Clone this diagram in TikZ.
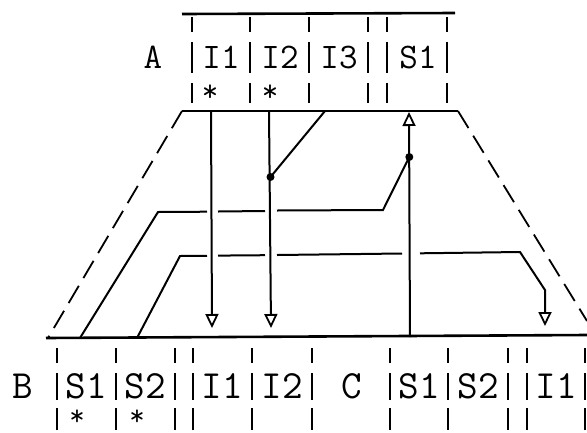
\documentclass[tikz,border=0pt]{standalone}
\usetikzlibrary{arrows.meta}
\begin{document}
\begin{tikzpicture}[x=1pt,y=-1pt,
 rule/.style={line width=2.6pt},
 bar/.style={line width=1.7pt},
 trap/.style={line width=1.8pt, dash pattern=on 20pt off 9pt},
 wire/.style={line width=2pt},
 arr/.style={line width=2pt, -{Triangle[open,length=14pt,width=13pt,line width=1.8pt]}},
 dot/.style={circle,fill,inner sep=0pt,minimum size=8pt},
 ltop/.style={font=\ttfamily\fontsize{36}{36}\selectfont, anchor=base, inner sep=0pt},
 lbot/.style={font=\ttfamily\fontsize{40}{40}\selectfont, anchor=base, inner sep=0pt},
 stop/.style={font=\ttfamily\fontsize{32}{32}\selectfont, inner sep=0pt},
 sbot/.style={font=\ttfamily\fontsize{30}{30}\selectfont, inner sep=0pt},
]
\useasboundingbox (0,0) rectangle (587,432);

% ---- register A ----
\foreach \x in {192,250,309,368,387,447}
  \draw[bar] (\x,17) -- (\x,32) (\x,42) -- (\x,73) (\x,83) -- (\x,103);
\coordinate (At1) at (182,14);  \coordinate (At2) at (455,13);
\coordinate (Ab1) at (182,111); \coordinate (Ab2) at (458,111);
\draw[rule] (At1) -- (At2);
\draw[rule] (Ab1) -- (Ab2);
\node[ltop] (tA)  at (153,68) {A};
\node[ltop] (tI1) at (221,68) {I1};
\node[ltop] (tI2) at (280,68) {I2};
\node[ltop] (tI3) at (339,68) {I3};
\node[ltop] (tS1) at (418,68) {S1};
\node[stop] (st1) at (210,93) {*};
\node[stop] (st2) at (270,93) {*};

% ---- register B / C ----
\foreach \x in {57,116,175,193,252,312,390,448,508,527,585}
  \draw[bar] (\x,348) -- (\x,363) (\x,373) -- (\x,400) (\x,408) -- (\x,430);
\coordinate (Bb1) at (46,338); \coordinate (Bb2) at (587,335);
\draw[rule] (Bb1) -- (Bb2);
\node[lbot] (tB)   at (23,398)  {B};
\node[lbot] (bS1)  at (86,398)  {S1};
\node[lbot] (bS2)  at (145,398) {S2};
\node[lbot] (bI1)  at (222,398) {I1};
\node[lbot] (bI2)  at (282,398) {I2};
\node[lbot] (tC)   at (352,398) {C};
\node[lbot] (cS1)  at (419,398) {S1};
\node[lbot] (cS2)  at (478,398) {S2};
\node[lbot] (cI1)  at (556,398) {I1};
\node[sbot] (st3) at (77,418) {*};
\node[sbot] (st4) at (137,418) {*};

% ---- trapezoid ----
\coordinate (Tl) at (48,338);
\coordinate (Tr) at (587,321);
\draw[trap] (Ab1) -- (Tl);
\draw[trap] (Ab2) -- (Tr);

% ---- arrows ----
\coordinate (a1s) at (211,111); \coordinate (a1e) at (212,328);
\coordinate (a2s) at (269,111); \coordinate (a2e) at (271,328);
\coordinate (a3s) at (410,337); \coordinate (a3e) at (409,112);
\draw[arr] (a1s) -- (a1e);
\draw[arr] (a2s) -- (a2e);
\draw[arr] (a3s) -- (a3e);
\node[dot] (d1) at (270.5,177) {};
\node[dot] (d2) at (409.3,157) {};

% ---- wire 1 ----
\coordinate (w1a) at (325,111);
\draw[wire] (w1a) -- (d1.center);

% ---- wire 2 ----
\coordinate (w2b) at (383,210);
\coordinate (w2c) at (158,212);
\coordinate (w2d) at (80,338);
\draw[wire] (d2.center) -- (w2b) -- (277,210.5);
\draw[wire] (265,211) -- (218,211.5);
\draw[wire] (207,211.7) -- (w2c) -- (w2d);

% ---- wire 3 ----
\coordinate (w3a) at (137,338);
\coordinate (w3b) at (180,256);
\coordinate (w3c) at (520,252);
\coordinate (w3d) at (545,290);
\coordinate (w3e) at (545,326);
\draw[wire] (w3a) -- (w3b) -- (207,255.8);
\draw[wire] (218,255.6) -- (265,255.2);
\draw[wire] (277,255) -- (402,253.5);
\draw[arr] (420,253.3) -- (w3c) -- (w3d) -- (w3e);
\end{tikzpicture}
\end{document}
